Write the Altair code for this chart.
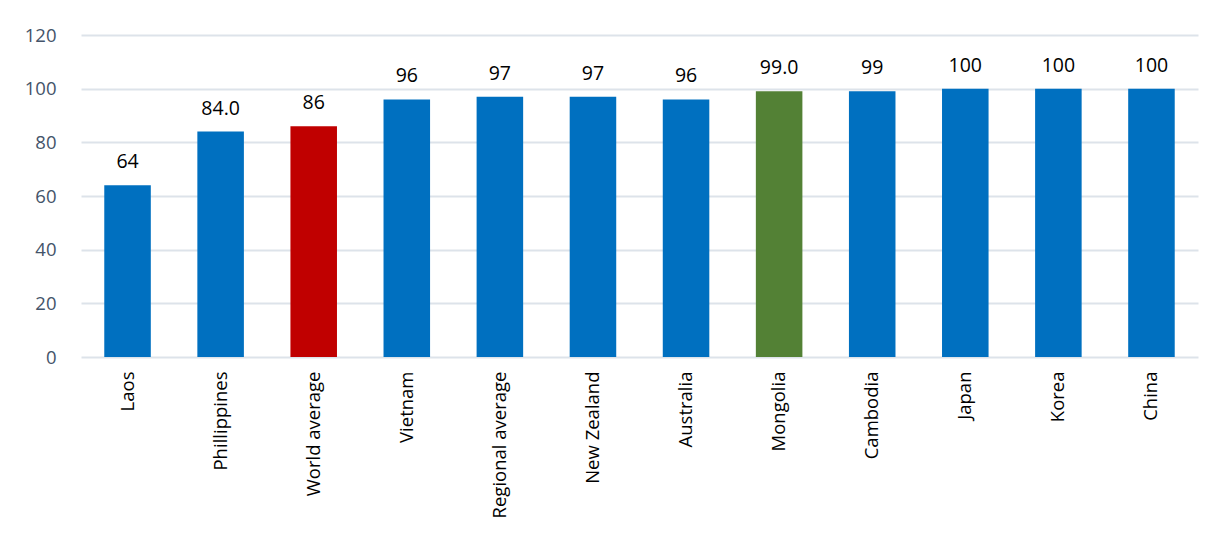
import altair as alt
import pandas as pd

categories = ["Laos", "Phillippines", "World average", "Vietnam", "Regional average",
              "New Zealand", "Australia", "Mongolia", "Cambodia", "Japan", "Korea", "China"]
values = [64, 84, 86, 96, 97, 97, 96, 99, 99, 100, 100, 100]
labels = ["64", "84.0", "86", "96", "97", "97", "96", "99.0", "99", "100", "100", "100"]
colors = ["#0070C0", "#0070C0", "#C00000", "#0070C0", "#0070C0", "#0070C0",
          "#0070C0", "#538135", "#0070C0", "#0070C0", "#0070C0", "#0070C0"]

df = pd.DataFrame({"cat": categories, "val": values, "lab": labels, "col": colors})

x = alt.X("cat:N", sort=categories, title=None,
          scale=alt.Scale(paddingInner=0.5, paddingOuter=0.25),
          axis=alt.Axis(labelAngle=-90, labelAlign="right", labelBaseline="middle",
                        labelFont="Open Sans", labelFontSize=18.5, labelColor="#000000",
                        labelPadding=14, ticks=False, domain=False, grid=False,
                        labelLimit=300))
y = alt.Y("val:Q", title=None,
          scale=alt.Scale(domain=[0, 120], nice=False),
          axis=alt.Axis(values=[0, 20, 40, 60, 80, 100, 120], ticks=False, domain=False,
                        labelFont="Open Sans", labelFontSize=18.5, labelColor="#44546A",
                        labelPadding=25, gridColor="#DDE3EA", gridWidth=2))

bars = alt.Chart(df).mark_bar().encode(x=x, y=y, color=alt.Color("col:N", scale=None))
text = alt.Chart(df).mark_text(baseline="bottom", dy=-13, font="Open Sans", fontSize=19.5,
                               color="#000000").encode(x=x, y=y, text="lab:N")

chart = (bars + text).properties(
    width=1117, height=322,
    autosize=alt.AutoSizeParams(type="none"),
    padding={"left": 81, "top": 35, "right": 26, "bottom": 189},
).configure_view(stroke=None)

chart.save("out.html", embed_options={"renderer": "svg", "actions": False})
